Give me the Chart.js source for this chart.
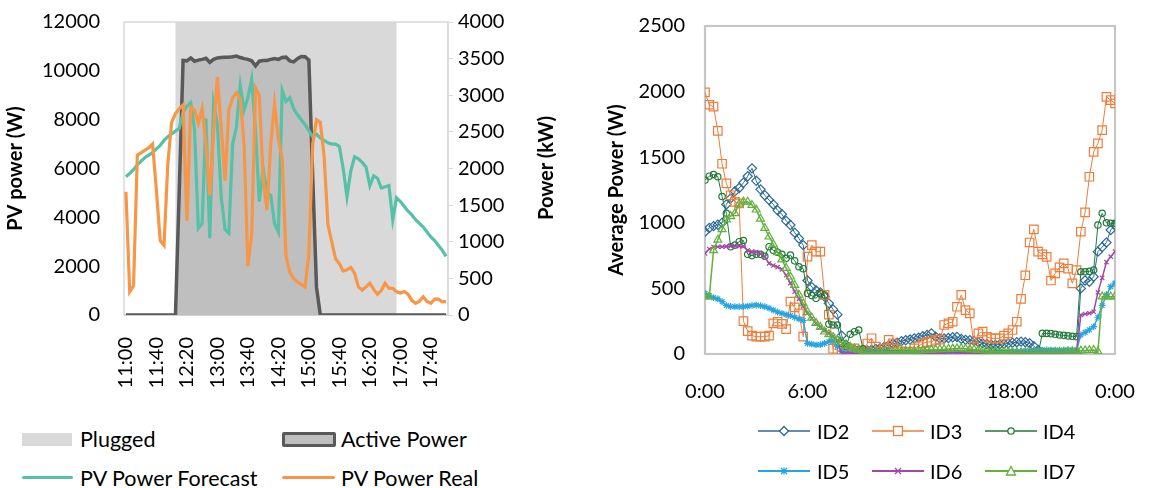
<!DOCTYPE html>
<html><head><meta charset="utf-8">
<script src="https://cdn.jsdelivr.net/npm/chart.js@4/dist/chart.umd.min.js"></script>
<style>
html,body{margin:0;padding:0;background:#fff;width:1162px;height:488px;overflow:hidden;font-family:Lato,"Open Sans",sans-serif;}
canvas{position:absolute;top:0;}
#c1{left:0;}
#c2{left:590px;}
.lt{position:absolute;font-size:21.5px;line-height:24px;color:#000;white-space:nowrap;}
.rt{position:absolute;font-size:20px;line-height:24px;color:#000;white-space:nowrap;}
.lk{position:absolute;}
#y1title{position:absolute;left:545px;top:168px;font-size:20px;font-weight:bold;line-height:24px;white-space:nowrap;transform:translate(-50%,-50%) rotate(-90deg);}
</style></head><body>
<canvas id="c1" width="561" height="420"></canvas>
<canvas id="c2" width="572" height="420"></canvas>
<div id="y1title">Power (kW)</div>

<div class="lk" style="left:22px;top:433px;width:50px;height:13px;background:#d9d9d9"></div>
<div class="lt" style="left:80px;top:427px">Plugged</div>
<div class="lk" style="left:282px;top:432px;width:48px;height:9px;background:#bfbfbf;border:3px solid #595959;border-radius:2px"></div>
<div class="lt" style="left:341px;top:427px">Active Power</div>
<div class="lk" style="left:22px;top:476px;width:51px;height:3px;background:#55c1a7;border-radius:2px"></div>
<div class="lt" style="left:80px;top:466px">PV Power Forecast</div>
<div class="lk" style="left:282px;top:476px;width:53px;height:3px;background:#f79646;border-radius:2px"></div>
<div class="lt" style="left:341px;top:466px">PV Power Real</div>

<svg class="lk" style="left:758px;top:424px" width="52" height="14"><line x1="0" y1="7" x2="52" y2="7" stroke="#2c6a94" stroke-width="1.5"/><path d="M26 2.5 L30.5 7 L26 11.5 L21.5 7Z" fill="#fff" stroke="#2c6a94" stroke-width="1.3"/></svg>
<div class="rt" style="left:817px;top:419px">ID2</div>
<svg class="lk" style="left:872px;top:424px" width="52" height="14"><line x1="0" y1="7" x2="52" y2="7" stroke="#ef7d3a" stroke-width="1.5"/><rect x="21.5" y="2.5" width="9" height="9" fill="#fff" stroke="#ef7d3a" stroke-width="1.3"/></svg>
<div class="rt" style="left:930px;top:419px">ID3</div>
<svg class="lk" style="left:985px;top:424px" width="52" height="14"><line x1="0" y1="7" x2="52" y2="7" stroke="#217a3a" stroke-width="1.5"/><circle cx="26" cy="7" r="3.2" fill="#fff" stroke="#217a3a" stroke-width="1.3"/></svg>
<div class="rt" style="left:1043px;top:419px">ID4</div>
<svg class="lk" style="left:758px;top:464px" width="52" height="14"><line x1="0" y1="7" x2="52" y2="7" stroke="#26a5de" stroke-width="2"/><path d="M23 4 L29 10 M29 4 L23 10 M26 3.5 L26 10.5" stroke="#26a5de" stroke-width="1.3"/></svg>
<div class="rt" style="left:817px;top:459px">ID5</div>
<svg class="lk" style="left:872px;top:464px" width="52" height="14"><line x1="0" y1="7" x2="52" y2="7" stroke="#a347a5" stroke-width="2"/><path d="M23 4 L29 10 M29 4 L23 10" stroke="#a347a5" stroke-width="1.3"/></svg>
<div class="rt" style="left:930px;top:459px">ID6</div>
<svg class="lk" style="left:985px;top:464px" width="52" height="14"><line x1="0" y1="7" x2="52" y2="7" stroke="#62b03e" stroke-width="2"/><path d="M26 2.5 L30.5 11 L21.5 11Z" fill="#fff" stroke="#62b03e" stroke-width="1.3"/></svg>
<div class="rt" style="left:1043px;top:459px">ID7</div>

<script>
// ---------- Left chart data (5-minute categories) ----------
const timeLabels = [
"11:00","11:05","11:10","11:15","11:20","11:25","11:30","11:35","11:40","11:45","11:50","11:55",
"12:00","12:05","12:10","12:15","12:20","12:25","12:30","12:35","12:40","12:45","12:50","12:55",
"13:00","13:05","13:10","13:15","13:20","13:25","13:30","13:35","13:40","13:45","13:50","13:55",
"14:00","14:05","14:10","14:15","14:20","14:25","14:30","14:35","14:40","14:45","14:50","14:55",
"15:00","15:05","15:10","15:15","15:20","15:25","15:30","15:35","15:40","15:45","15:50","15:55",
"16:00","16:05","16:10","16:15","16:20","16:25","16:30","16:35","16:40","16:45","16:50","16:55",
"17:00","17:05","17:10","17:15","17:20","17:25","17:30","17:35","17:40","17:45","17:50","17:55",
"18:00"];
const tickEvery = 8;

const pluggedW = [
0,0,0,0,0,0,0,0,0,0,0,0,0,0,
12000,12000,12000,12000,12000,12000,12000,12000,12000,12000,12000,12000,12000,12000,12000,12000,12000,12000,12000,12000,
12000,12000,12000,12000,12000,12000,12000,12000,12000,12000,12000,12000,12000,12000,12000,12000,12000,12000,12000,12000,
12000,12000,12000,12000,12000,12000,12000,12000,12000,12000,12000,12000,12000,12000,12000,12000,12000,12000,
0,0,0,0,0,0,0,0,0,0,0,0,0];

const activePowerKW = [
0,0,0,0,0,0,0,0,0,0,0,0,0,0,
1700,3475,3470,3510,3465,3480,3490,3505,3450,3490,3510,3515,3520,3520,3525,3535,3515,3500,3490,3470,3400,
3465,3475,3475,3490,3500,3490,3515,3520,3470,3455,3500,3530,3525,3480,1900,380,
0,0,0,0,0,0,0,0,0,0,0,0,0,0,0,0,0,0,0,0,0,0,0,0,0,0,0,0,0,0,0,0,0,0];

const pvForecastW = [
5660,5800,5950,6150,6300,6450,6550,6650,6800,6950,7150,7300,7420,7530,7650,
8300,8550,8700,7600,3550,3750,8050,3150,8650,7800,4850,3500,3350,7000,7700,
9400,8400,8900,9650,7500,4650,6000,5000,4900,3750,3400,9200,8750,8900,8450,
8200,8000,7800,7550,7300,7400,7250,7150,7050,7000,7000,6900,6000,4850,5900,
6480,6400,6250,6050,5300,5700,5600,5200,5250,5300,3900,4800,4650,4450,4250,
4100,3900,3750,3600,3400,3200,3050,2850,2650,2400];

const pvRealW = [
5050,950,1200,6550,6650,6750,6850,7000,5100,3050,2850,6200,7900,8250,8450,
8600,3850,8500,8400,7850,8450,7000,4900,7500,9750,7700,5500,8400,8900,9100,
8850,7000,2000,3300,9300,9000,5600,4300,7000,8650,7200,6400,2400,1750,1500,
1350,1250,1150,2500,7000,8000,7900,6500,3700,3000,2300,2100,1800,1850,1950,
1700,1150,1020,1150,1300,1050,850,1000,1300,1100,1090,950,900,960,850,
600,480,560,750,550,480,650,650,540,550];

// ---------- Right chart data (15-minute samples over one day) ----------
const hoursOfDay = [
0,0.25,0.5,0.75, 1,1.25,1.5,1.75, 2,2.25,2.5,2.75, 3,3.25,3.5,3.75, 4,4.25,4.5,4.75, 5,5.25,5.5,5.75,
6,6.25,6.5,6.75, 7,7.25,7.5,7.75, 8,8.25,8.5,8.75, 9,9.25,9.5,9.75, 10,10.25,10.5,10.75, 11,11.25,11.5,11.75,
12,12.25,12.5,12.75, 13,13.25,13.5,13.75, 14,14.25,14.5,14.75, 15,15.25,15.5,15.75, 16,16.25,16.5,16.75, 17,17.25,17.5,17.75,
18,18.25,18.5,18.75, 19,19.25,19.5,19.75, 20,20.25,20.5,20.75, 21,21.25,21.5,21.75, 22,22.25,22.5,22.75, 23,23.25,23.5,23.75,
24];
const dayTicks = ["0:00","6:00","12:00","18:00","0:00"];

const id2W = [
932,960,975,985, 1000,1140,1186,1240, 1265,1305,1355,1415, 1320,1255,1210,1173, 1140,1095,1065,1015, 983,925,880,830,
560,510,485,470, 437,386,340,300, 140,70,43,35, 30,30,28,32, 38,45,56,66, 78,86,98,105,
110,118,125,135, 145,157,132,119, 118,122,128,130, 115,108,106,99, 90,82,76,71, 69,73,77,81,
86,90,94,90, 82,60,30,14, 6,5,5,4, 5,5,6,5, 500,560,551,589, 780,815,850,945,
980];
const id3W = [
1994,1900,1885,1700, 1450,1300,1210,1160, 1148,250,175,140, 132,132,132,140, 234,246,230,190, 400,355,310,132,
742,830,780,780, 450,300,40,30, 25,20,35,43, 15,25,80,120, 56,18,40,107, 81,40,20,15,
18,43,60,81, 90,94,107,110, 221,234,246,360, 450,335,310,56, 157,170,130,119, 119,119,140,157,
183,246,420,600, 850,950,780,760, 740,560,615,660, 691,650,538,640, 932,1080,1351,1540, 1605,1707,1960,1935,
1910];
const id4W = [
1326,1355,1368,1351, 1200,1072,818,830, 856,865,760,750, 760,760,745,818, 790,775,760,729, 754,710,665,650,
462,445,424,460, 450,228,221,221, 80,56,150,170, 183,40,10,5, 4,3,5,4, 3,4,5,3,
4,5,3,4, 5,4,3,5, 4,3,4,5, 3,4,5,4, 3,5,4,3, 4,5,3,4,
5,4,3,4, 5,3,4,157, 157,155,150,145, 142,138,135,132, 627,627,630,640, 983,1072,1000,996,
996];
const id5W = [
462,445,430,420, 399,370,362,361, 360,361,365,370, 373,368,361,350, 335,320,310,300, 292,280,268,255,
81,75,70,72, 81,95,100,60, 20,8,5,4, 4,3,5,4, 3,4,4,5, 4,3,4,5,
4,5,3,4, 5,4,4,3, 4,5,4,3, 4,5,4,4, 3,4,5,4, 6,8,10,12,
15,18,20,25, 28,30,30,30, 31,30,29,30, 30,31,30,30, 145,165,185,208, 280,370,450,513,
540];
const id6W = [
767,800,815,818, 818,820,822,823, 822,820,790,780, 778,765,740,691, 675,662,645,600, 540,475,420,365,
310,270,235,205, 180,157,135,100, 5,4,3,4, 4,3,5,4, 3,4,5,4, 3,4,4,5,
4,3,5,4, 4,5,4,3, 10,15,18,12, 8,5,4,3, 4,3,4,5, 4,3,4,4,
5,4,3,4, 4,5,3,4, 4,3,5,4, 4,3,4,5, 297,305,310,322, 470,580,700,742,
780];
const id7W = [
437,437,790,870, 950,1025,1050,1072, 1145,1161,1160,1135, 1100,1030,960,894, 835,775,720,655, 589,525,450,385,
320,275,235,205, 170,150,128,104, 90,69,55,40, 30,18,12,8, 10,12,14,16, 18,20,22,20,
20,24,26,28, 30,32,33,35, 36,38,40,42, 43,40,36,33, 30,28,26,24, 20,19,18,17,
15,14,12,11, 10,10,11,10, 10,12,13,14, 15,17,19,22, 25,27,29,30, 18,437,437,437,
437];

const FONT = 'Lato';
Chart.defaults.font.family = FONT;
Chart.defaults.color = '#000';
Chart.defaults.animation = false;

const frame = (color, width) => ({
  id: 'frame',
  beforeDatasetsDraw(chart) {
    const a = chart.chartArea, c = chart.ctx;
    c.save(); c.strokeStyle = color; c.lineWidth = width;
    c.strokeRect(a.left, a.top, a.right - a.left, a.bottom - a.top);
    c.restore();
  }
});

// invisible tick marks give the label gap without enlarging the layout padding
const gapTicks = len => ({ display: true, drawOnChartArea: false, drawTicks: true, tickLength: len, color: 'rgba(0,0,0,0)' });

function build() {
  new Chart(document.getElementById('c1'), {
    type: 'line',
    data: {
      labels: timeLabels,
      datasets: [
        { label: 'PV Power Real', data: pvRealW, yAxisID: 'y', borderColor: '#f79646', borderWidth: 3.2, pointRadius: 0, tension: 0, order: 0, fill: false },
        { label: 'PV Power Forecast', data: pvForecastW, yAxisID: 'y', borderColor: '#55c1a7', borderWidth: 3.2, pointRadius: 0, tension: 0, order: 1, fill: false },
        { label: 'Active Power', data: activePowerKW, yAxisID: 'y1', borderColor: '#595959', backgroundColor: '#bfbfbf', borderWidth: 3.5, pointRadius: 0, tension: 0, order: 2, fill: 'origin' },
        { label: 'Plugged', data: pluggedW, yAxisID: 'y', borderWidth: 0, borderColor: 'rgba(0,0,0,0)', backgroundColor: '#d9d9d9', pointRadius: 0, stepped: 'after', order: 3, fill: 'origin' }
      ]
    },
    options: {
      responsive: false,
      layout: { padding: { top: 22, left: 0, right: 0, bottom: 0 } },
      plugins: { legend: { display: false }, tooltip: { enabled: false } },
      scales: {
        x: {
          offset: true,
          grid: { display: false },
          border: { display: true, color: '#bfbfbf', width: 1 },
          ticks: { autoSkip: false, minRotation: 90, maxRotation: 90, padding: 14, font: { size: 20 }, color: '#000',
                   callback: (v, i) => (i % tickEvery === 0 ? timeLabels[i] : '') },
          afterFit: s => { s.height = 105; }
        },
        y: {
          position: 'left', min: 0, max: 12000,
          ticks: { stepSize: 2000, padding: 0, font: { size: 20 }, color: '#000', callback: v => String(v) },
          grid: gapTicks(24),
          border: { display: false },
          title: { display: true, text: 'PV power (W)', font: { size: 20, weight: 'bold' }, color: '#000', padding: { top: 4, bottom: 4 } },
          afterFit: s => { s.width = 124; }
        },
        y1: {
          position: 'right', min: 0, max: 4000,
          ticks: { stepSize: 500, padding: 5, font: { size: 20 }, color: '#000', callback: v => String(v) },
          grid: { display: true, drawOnChartArea: false, drawTicks: true, tickLength: 5, color: '#d9d9d9' },
          border: { display: true, color: '#d9d9d9', width: 1.5 },
          title: { display: false },
          afterFit: s => { s.width = 113; }
        }
      }
    },
    plugins: [frame('#d9d9d9', 1.5)]
  });

  const series = [
    { label: 'ID2', vals: id2W, color: '#2c6a94', style: 'rectRot', r: 4.6, order: 6, lw: 1 },
    { label: 'ID3', vals: id3W, color: '#ef7d3a', style: 'rect', r: 6, order: 5, lw: 1 },
    { label: 'ID4', vals: id4W, color: '#217a3a', style: 'circle', r: 3.2, order: 4, lw: 1 },
    { label: 'ID5', vals: id5W, color: '#26a5de', style: 'star', r: 3.4, order: 3, lw: 1.5 },
    { label: 'ID6', vals: id6W, color: '#a347a5', style: 'crossRot', r: 3, order: 2, lw: 1.5 },
    { label: 'ID7', vals: id7W, color: '#62b03e', style: 'triangle', r: 4.6, order: 1, lw: 1.5 }
  ];

  new Chart(document.getElementById('c2'), {
    type: 'scatter',
    data: {
      datasets: series.map(s => ({
        label: s.label,
        data: hoursOfDay.map((h, i) => ({ x: h, y: s.vals[i] })),
        showLine: true,
        borderColor: s.color,
        borderWidth: s.lw,
        pointStyle: s.style,
        pointRadius: s.r,
        pointBorderColor: s.color,
        pointBackgroundColor: 'rgba(255,255,255,0)',
        pointBorderWidth: 1.2,
        tension: 0,
        order: s.order
      }))
    },
    options: {
      responsive: false,
      layout: { padding: { top: 26, left: 11, right: 47, bottom: 0 } },
      plugins: { legend: { display: false }, tooltip: { enabled: false } },
      scales: {
        x: {
          type: 'linear', min: 0, max: 24,
          grid: { display: false },
          border: { display: false },
          ticks: { stepSize: 6, padding: 18, font: { size: 20 }, color: '#000', maxRotation: 0,
                   callback: v => dayTicks[v / 6] },
          afterFit: s => { s.height = 66; }
        },
        y: {
          min: 0, max: 2500,
          grid: gapTicks(20),
          border: { display: false },
          ticks: { stepSize: 500, padding: 0, font: { size: 20 }, color: '#000', callback: v => String(v) },
          title: { display: true, text: 'Average Power (W)', font: { size: 20, weight: 'bold' }, color: '#000', padding: { top: 4, bottom: 4 } },
          afterFit: s => { s.width = 104; }
        }
      }
    },
    plugins: [frame('#c6c6c6', 2.2)]
  });
}

const fontsReady = document.fonts && document.fonts.load
  ? Promise.all([document.fonts.load('20px Lato'), document.fonts.load('bold 20px Lato')]).catch(() => {})
  : Promise.resolve();
fontsReady.then(build);
</script>
</body></html>
